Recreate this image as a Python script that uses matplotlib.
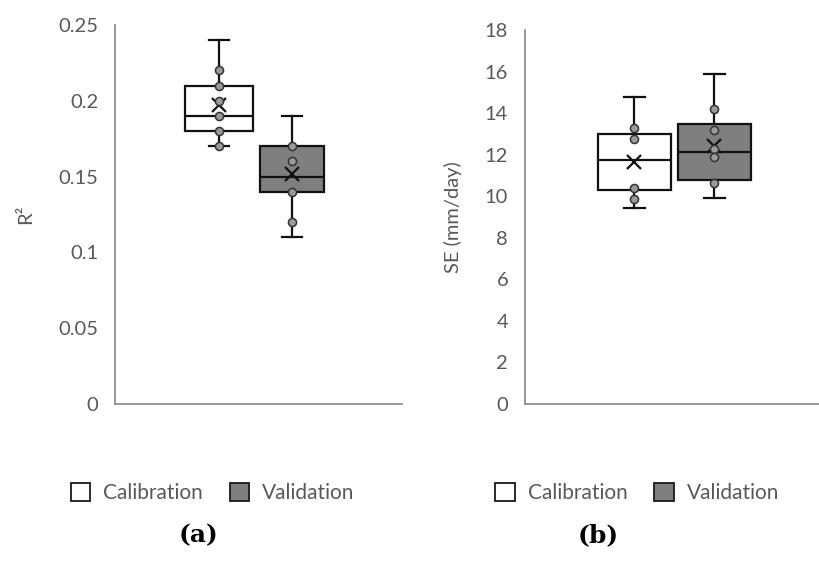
import matplotlib.pyplot as plt
from matplotlib.patches import Patch

plt.rcParams['font.family'] = ['Lato', 'DejaVu Sans']

# box stats: [calibration, validation]
r2_low = [0.17, 0.11]
r2_q1 = [0.18, 0.14]
r2_med = [0.19, 0.15]
r2_q3 = [0.21, 0.17]
r2_high = [0.24, 0.19]
r2_mean = [0.197, 0.152]
r2_points = [[0.22, 0.21, 0.20, 0.19, 0.18, 0.17],
             [0.17, 0.16, 0.14, 0.12]]

se_low = [9.45, 9.92]
se_q1 = [10.3, 10.77]
se_med = [11.75, 12.13]
se_q3 = [13.0, 13.47]
se_high = [14.8, 15.87]
se_mean = [11.65, 12.4]
se_points = [[13.3, 12.75, 10.4, 9.85],
             [14.2, 13.2, 12.3, 11.9, 10.65]]

series = ['Calibration', 'Validation']
fills = ['white', '#7f7f7f']
txt = '#595959'
axcol = '#868686'


def draw(ax, low, q1, med, q3, high, mean, points, widths, ylim, yticks, ylab, xlim):
    stats = []
    for i in range(2):
        stats.append(dict(whislo=low[i], q1=q1[i], med=med[i], q3=q3[i],
                          whishi=high[i], mean=mean[i], fliers=[]))
    bp = ax.bxp(stats, positions=[1, 2], widths=widths, patch_artist=True,
                showmeans=True, capwidths=[0.27, 0.27],
                boxprops=dict(edgecolor='#111111', linewidth=1.6),
                medianprops=dict(color='#111111', linewidth=1.6),
                whiskerprops=dict(color='#111111', linewidth=1.6),
                capprops=dict(color='#111111', linewidth=1.6),
                meanprops=dict(marker='x', markeredgecolor='#111111',
                               markersize=10, markeredgewidth=1.6))
    for box, c in zip(bp['boxes'], fills):
        box.set_facecolor(c)
    for i in range(2):
        ax.scatter([i + 1] * len(points[i]), points[i], s=34, facecolor='#9a9a9a',
                   edgecolor='#333333', linewidth=1.1, zorder=4)
    ax.set_xlim(*xlim)
    ax.set_ylim(*ylim)
    ax.set_yticks(yticks)
    ax.set_xticks([])
    ax.tick_params(axis='y', length=0, pad=12, labelsize=14.5, labelcolor=txt)
    for s in ['top', 'right']:
        ax.spines[s].set_visible(False)
    for s in ['left', 'bottom']:
        ax.spines[s].set_color(axcol)
        ax.spines[s].set_linewidth(1.2)
    ax.set_ylabel(ylab, fontsize=14.5, color=txt)


fig = plt.figure(figsize=(8.2, 5.77), dpi=100)
ax1 = fig.add_axes([0.1402, 0.2998, 0.35, 0.657])
ax2 = fig.add_axes([0.640, 0.2998, 0.36, 0.648])

draw(ax1, r2_low, r2_q1, r2_med, r2_q3, r2_high, r2_mean, r2_points, [0.93, 0.87],
     (0, 0.25), [0, 0.05, 0.1, 0.15, 0.2, 0.25], 'R²', (-0.425, 3.507))
ax1.set_yticklabels(['0', '0.05', '0.1', '0.15', '0.2', '0.25'])
ax1.yaxis.set_label_coords(-0.28, 0.5)

draw(ax2, se_low, se_q1, se_med, se_q3, se_high, se_mean, se_points, [0.91, 0.91],
     (0, 18), list(range(0, 19, 2)), 'SE (mm/day)', (-0.369, 3.319))
ax2.yaxis.set_label_coords(-0.214, 0.5)

handles = [Patch(facecolor=c, edgecolor='#1a1a1a', linewidth=1.3, label=l)
           for c, l in zip(fills, series)]
for x in [0.086, 0.604]:
    fig.legend(handles=handles, loc='center left', bbox_to_anchor=(x, 0.146),
               ncol=2, frameon=False, fontsize=15, labelcolor=txt,
               handlelength=0.95, handleheight=0.95, handletextpad=0.6,
               columnspacing=1.3, borderpad=0, borderaxespad=0)

fig.text(0.2415, 0.073, '(a)', ha='center', va='center', fontsize=18,
         fontweight='bold', family='DejaVu Serif')
fig.text(0.729, 0.073, '(b)', ha='center', va='center', fontsize=18,
         fontweight='bold', family='DejaVu Serif')

fig.savefig('out.png', dpi=100)
